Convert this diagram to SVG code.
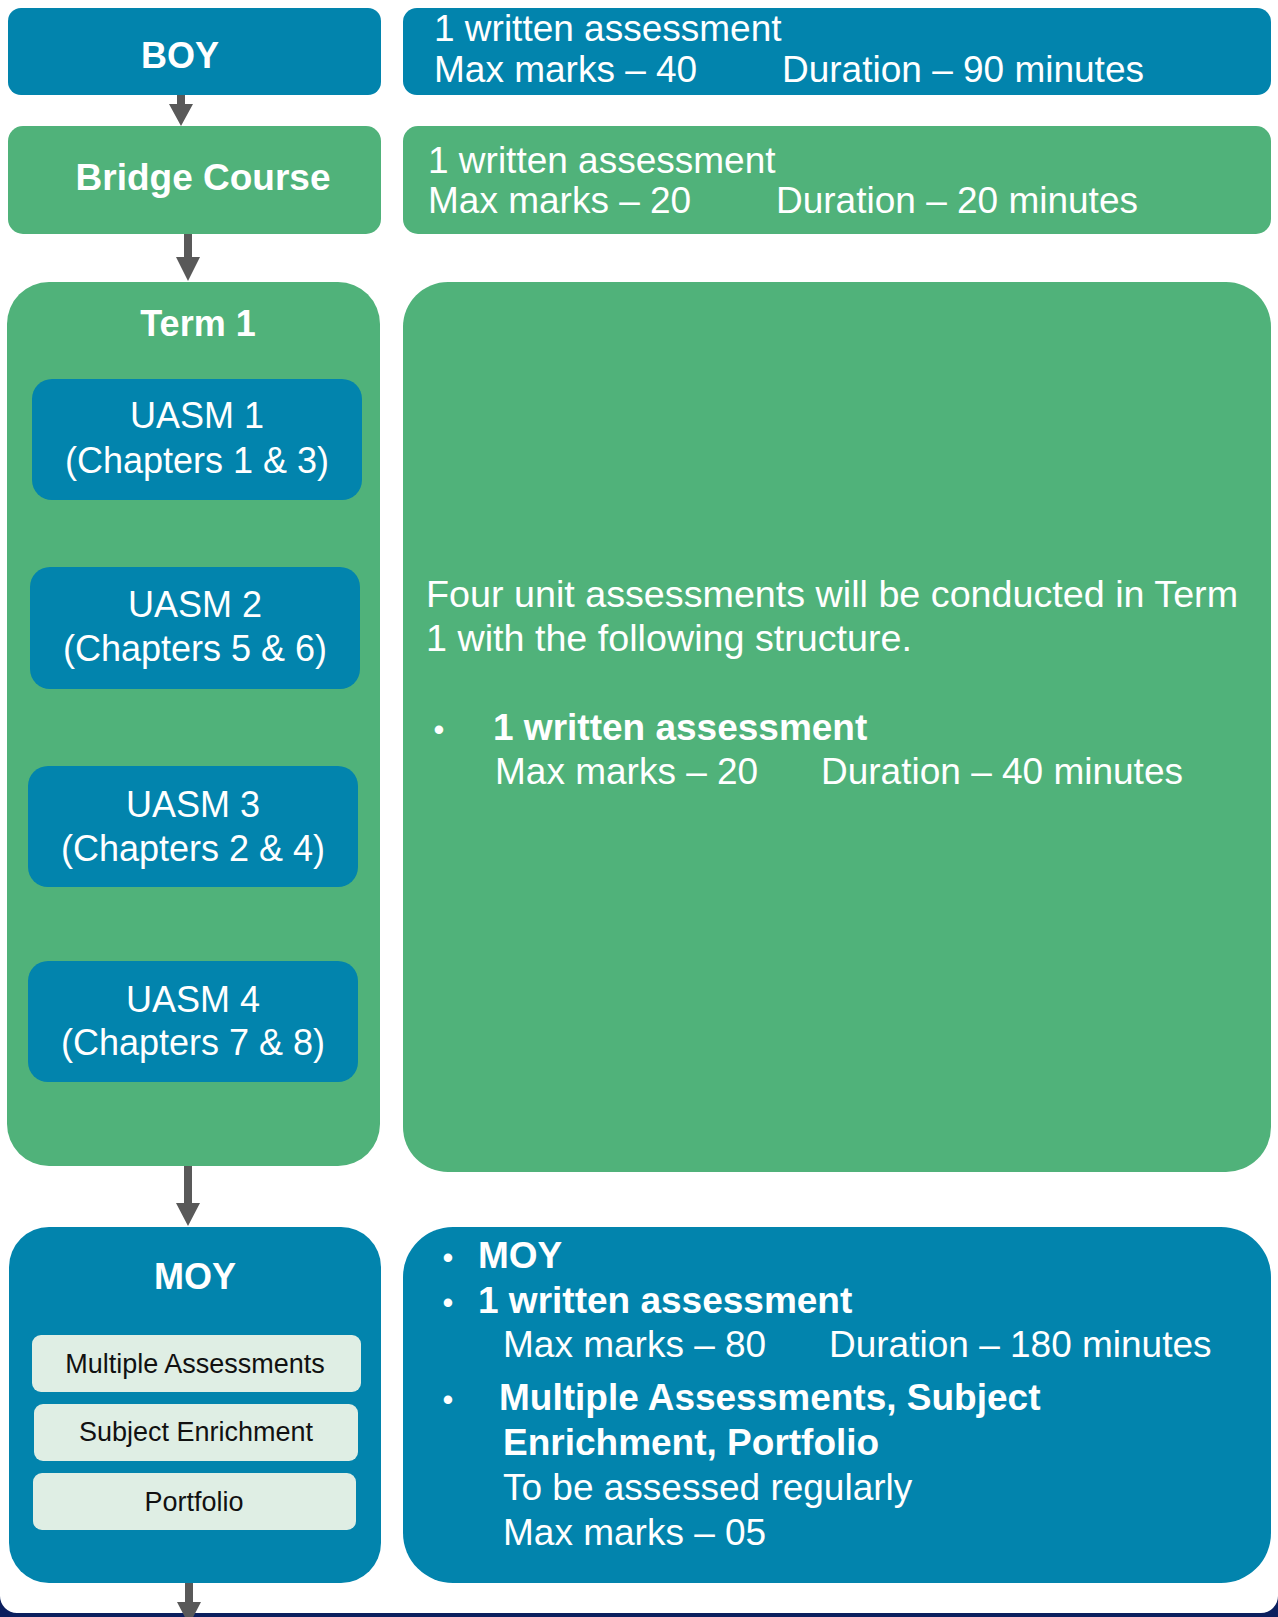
<svg xmlns="http://www.w3.org/2000/svg" width="1278" height="1617" viewBox="0 0 1278 1617">
<style>
.blue{fill:#0284ad}
.green{fill:#50b27a}
.light{fill:#dfeee4}
.t{font-family:"Liberation Sans",Arial,sans-serif;fill:#ffffff}
.h{font-weight:bold;font-size:36px;text-anchor:middle}
.b{font-size:37px}
.bb{font-size:37px;font-weight:bold}
.u{font-size:36px;text-anchor:middle}
.s{font-family:"Liberation Sans",Arial,sans-serif;fill:#111111;font-size:27px;text-anchor:middle}
.bul{font-size:31px;text-anchor:middle}
.arrow{fill:#595959}
</style>
<rect x="0" y="0" width="1278" height="1617" fill="#ffffff"/>
<path d="M0,1596 A17,17 0 0 0 17,1613 L1261,1613 A17,17 0 0 0 1278,1596 L1278,1617 L0,1617 Z" fill="#0b1f5e"/>

<g id="boy">
<rect class="blue" x="8" y="8" width="373" height="87" rx="13"/>
<text class="t h" x="180" y="68">BOY</text>
</g>
<g id="boy-detail">
<rect class="blue" x="403" y="8" width="868" height="87" rx="14"/>
<text class="t b" x="434" y="41">1 written assessment</text>
<text class="t b" x="434" y="82">Max marks – 40</text>
<text class="t b" x="782" y="82">Duration – 90 minutes</text>
</g>

<g id="bridge">
<rect class="green" x="8" y="126" width="373" height="108" rx="15"/>
<text class="t h" x="203" y="190" style="font-size:37px">Bridge Course</text>
</g>
<g id="bridge-detail">
<rect class="green" x="403" y="126" width="868" height="108" rx="15"/>
<text class="t b" x="428" y="173">1 written assessment</text>
<text class="t b" x="428" y="213">Max marks – 20</text>
<text class="t b" x="776" y="213">Duration – 20 minutes</text>
</g>

<g id="term1">
<rect class="green" x="7" y="282" width="373" height="884" rx="42"/>
<text class="t h" x="198" y="336">Term 1</text>
</g>
<g id="uasm1">
<rect class="blue" x="32" y="379" width="330" height="121" rx="20"/>
<text class="t u" x="197" y="428">UASM 1</text>
<text class="t u" x="197" y="473">(Chapters 1 &amp; 3)</text>
</g>
<g id="uasm2">
<rect class="blue" x="30" y="567" width="330" height="122" rx="20"/>
<text class="t u" x="195" y="617">UASM 2</text>
<text class="t u" x="195" y="661">(Chapters 5 &amp; 6)</text>
</g>
<g id="uasm3">
<rect class="blue" x="28" y="766" width="330" height="121" rx="20"/>
<text class="t u" x="193" y="817">UASM 3</text>
<text class="t u" x="193" y="861">(Chapters 2 &amp; 4)</text>
</g>
<g id="uasm4">
<rect class="blue" x="28" y="961" width="330" height="121" rx="20"/>
<text class="t u" x="193" y="1012">UASM 4</text>
<text class="t u" x="193" y="1055">(Chapters 7 &amp; 8)</text>
</g>

<g id="term1-detail">
<rect class="green" x="403" y="282" width="868" height="890" rx="45"/>
<text class="t b" x="426" y="607" style="font-size:37.7px">Four unit assessments will be conducted in Term</text>
<text class="t b" x="426" y="651" style="font-size:37.7px">1 with the following structure.</text>
<text class="t bul" x="439" y="740">•</text>
<text class="t bb" x="493" y="740">1 written assessment</text>
<text class="t b" x="495" y="784">Max marks – 20</text>
<text class="t b" x="821" y="784">Duration – 40 minutes</text>
</g>

<g id="moy">
<rect class="blue" x="9" y="1227" width="372" height="356" rx="40"/>
<text class="t h" x="195" y="1289">MOY</text>
</g>
<g id="moy-multiple">
<rect class="light" x="32" y="1335" width="329" height="57" rx="9"/>
<text class="s" x="195" y="1373">Multiple Assessments</text>
</g>
<g id="moy-enrichment">
<rect class="light" x="34" y="1404" width="324" height="57" rx="9"/>
<text class="s" x="196" y="1441">Subject Enrichment</text>
</g>
<g id="moy-portfolio">
<rect class="light" x="33" y="1473" width="323" height="57" rx="9"/>
<text class="s" x="194" y="1511">Portfolio</text>
</g>

<g id="moy-detail">
<rect class="blue" x="403" y="1227" width="868" height="356" rx="50"/>
<text class="t bul" x="448" y="1268">•</text>
<text class="t bb" x="478" y="1268">MOY</text>
<text class="t bul" x="448" y="1313">•</text>
<text class="t bb" x="478" y="1313">1 written assessment</text>
<text class="t b" x="503" y="1357">Max marks – 80</text>
<text class="t b" x="829" y="1357">Duration – 180 minutes</text>
<text class="t bul" x="448" y="1410">•</text>
<text class="t bb" x="499" y="1410">Multiple Assessments, Subject</text>
<text class="t bb" x="503" y="1455">Enrichment, Portfolio</text>
<text class="t b" x="503" y="1500">To be assessed regularly</text>
<text class="t b" x="503" y="1545">Max marks – 05</text>
</g>

<g id="connectors">
<path class="arrow" d="M177,95 H185 V104 H193 L181,126 L169,104 H177 Z"/>
<path class="arrow" d="M184,234 H192 V257 H200 L188,281 L176,257 H184 Z"/>
<path class="arrow" d="M184,1166 H192 V1203 H200 L188,1226 L176,1203 H184 Z"/>
<path class="arrow" d="M185,1583 H193 V1602 H201 L189,1625 L177,1602 H185 Z"/>
</g>
</svg>
